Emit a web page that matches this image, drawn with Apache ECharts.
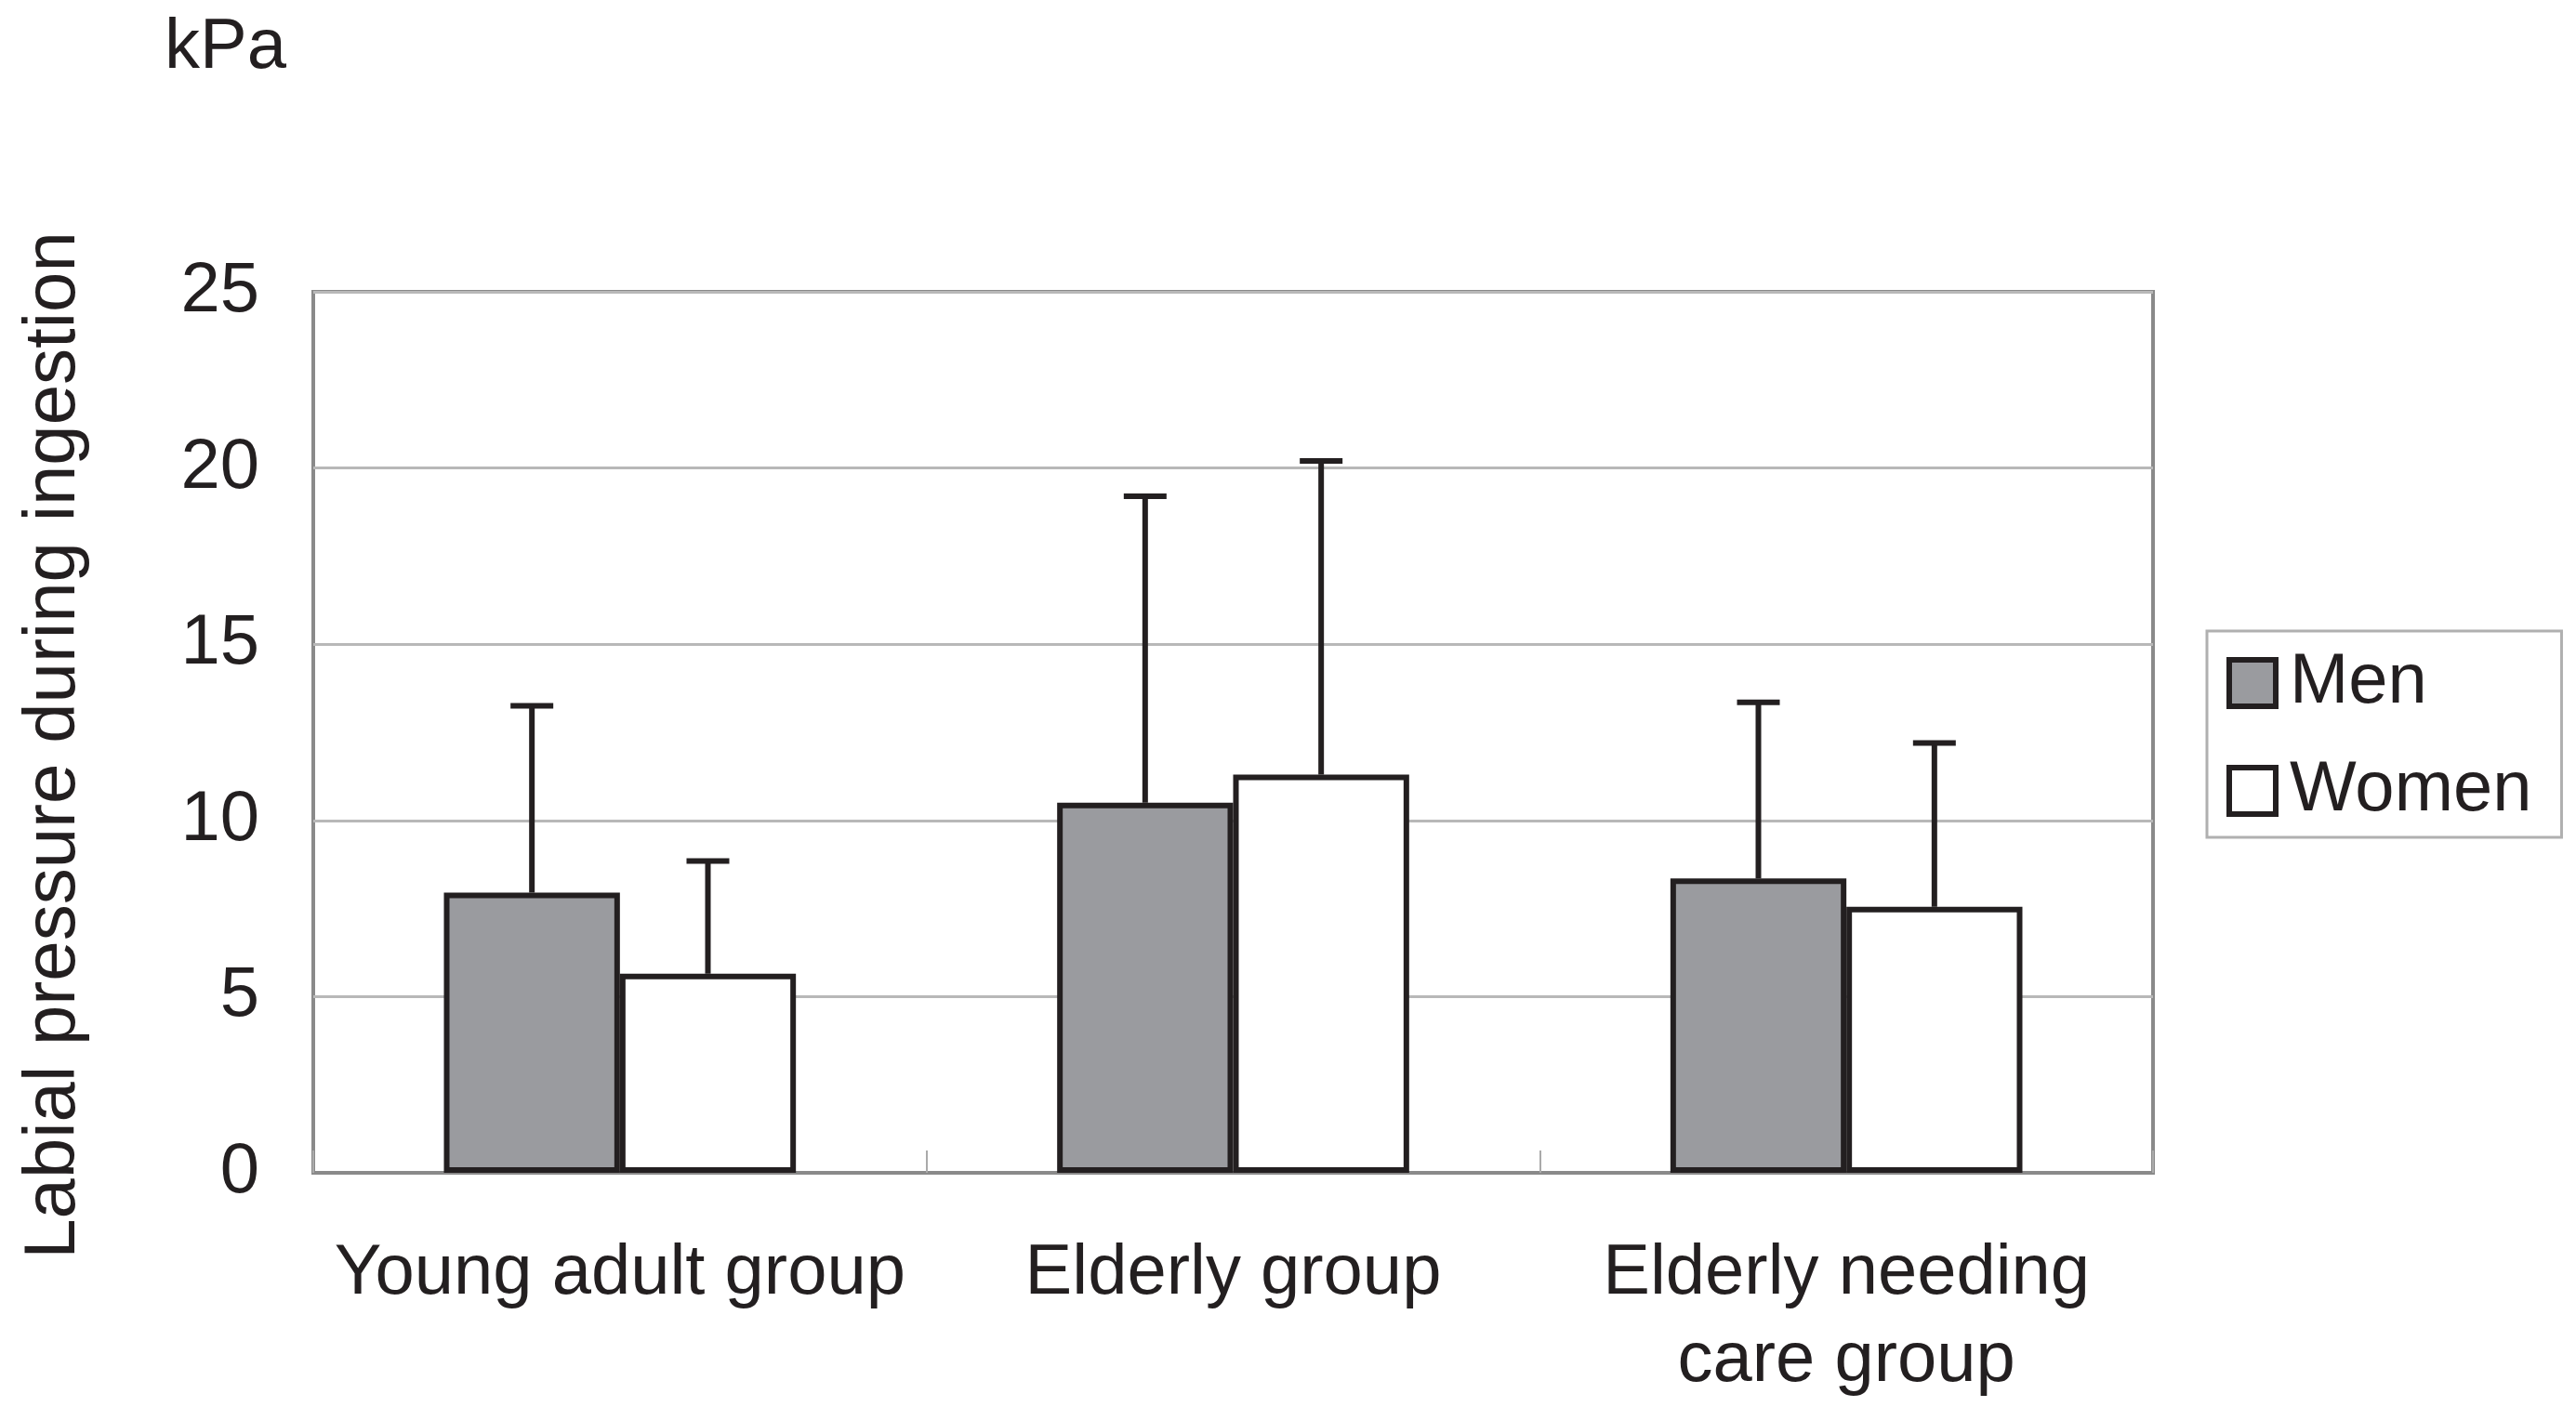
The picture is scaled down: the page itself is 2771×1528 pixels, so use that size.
<!DOCTYPE html>
<html>
<head>
<meta charset="utf-8">
<script src="https://cdn.jsdelivr.net/npm/echarts@6/dist/echarts.min.js"></script>
<style>
html,body{margin:0;padding:0;background:#fff;}
#c{width:2771px;height:1528px;}
</style>
</head>
<body>
<div id="c"></div>
<script>
// ---- data ----
const categories = ['Young adult group', 'Elderly group', 'Elderly needing\ncare group'];
const seriesNames = ['Men', 'Women'];
const menMean = [7.95, 10.5, 8.35];
const menSD = [5.3, 8.7, 5.0];
const womenMean = [5.65, 11.3, 7.55];
const womenSD = [3.2, 8.9, 4.65];
const yTicks = [0, 5, 10, 15, 20, 25];
const yTitle = 'Labial pressure during ingestion';
const unitLabel = 'kPa';

const FONT = '"Liberation Sans", Arial, sans-serif';
const INK = '#231f20';
const BAR_FRAC = 0.287;

function errData(means, sds) {
  return means.map((m, i) => [i, m, sds[i]]);
}

function errRender(side) {
  return function (params, api) {
    const ci = api.value(0), mean = api.value(1), sd = api.value(2);
    const top = api.coord([ci, mean + sd]);
    const base = api.coord([ci, mean]);
    const band = api.size([1, 0])[0];
    const x = top[0] + side * band * BAR_FRAC / 2;
    const cap = 23;
    const st = { stroke: INK, lineWidth: 6 };
    return {
      type: 'group',
      children: [
        { type: 'line', shape: { x1: x, y1: base[1], x2: x, y2: top[1] }, style: st },
        { type: 'line', shape: { x1: x - cap, y1: top[1], x2: x + cap, y2: top[1] }, style: st }
      ]
    };
  };
}

const chart = echarts.init(document.getElementById('c'), null, { renderer: 'canvas' });
chart.setOption({
  animation: false,
  backgroundColor: '#fff',
  textStyle: { fontFamily: FONT, color: INK },
  graphic: [
    {
      type: 'text', left: 177, top: 14,
      style: { text: unitLabel, font: '76px ' + FONT, fill: INK }
    },
    {
      type: 'text', x: 58, y: 802, rotation: Math.PI / 2,
      style: { text: yTitle, font: '78px ' + FONT, fill: INK, align: 'center', verticalAlign: 'middle' }
    }
  ],
  legend: {
    data: seriesNames,
    orient: 'vertical',
    left: 2374, top: 679,
    itemWidth: 50, itemHeight: 50, itemGap: 40,
    padding: [18, 32, 12, 21],
    borderColor: '#b0b0b0', borderWidth: 3,
    icon: 'rect',
    itemStyle: { borderColor: INK, borderWidth: 6 },
    textStyle: { fontSize: 76, fontFamily: FONT, color: INK, padding: [0, 0, 0, 10] }
  },
  grid: {
    left: 337, right: 455, top: 314, bottom: 266,
    show: true, borderColor: '#8a8a8a', borderWidth: 4, backgroundColor: 'transparent'
  },
  xAxis: {
    type: 'category',
    data: categories,
    axisLine: { show: true, lineStyle: { color: '#8a8a8a', width: 4 } },
    axisTick: { show: true, inside: true, length: 24, lineStyle: { color: '#aaaaaa', width: 2 } },
    axisLabel: { fontSize: 76, fontFamily: FONT, color: INK, margin: 62, lineHeight: 94, interval: 0 }
  },
  yAxis: {
    type: 'value', min: 0, max: 25, interval: 5,
    axisLine: { show: false },
    axisTick: { show: false },
    axisLabel: {
      fontSize: 76, fontFamily: FONT, color: INK, margin: 58,
      formatter: v => (yTicks.indexOf(v) >= 0 ? String(v) : '')
    },
    splitLine: { show: true, lineStyle: { color: '#b8b8b8', width: 3 } }
  },
  series: [
    {
      name: 'Men', type: 'bar', data: menMean,
      barWidth: (BAR_FRAC * 100) + '%', barGap: '0%',
      itemStyle: { color: '#9a9b9f', borderColor: INK, borderWidth: 6 }
    },
    {
      name: 'Women', type: 'bar', data: womenMean,
      barWidth: (BAR_FRAC * 100) + '%', barGap: '0%',
      itemStyle: { color: '#ffffff', borderColor: INK, borderWidth: 6 }
    },
    {
      type: 'custom', z: 3, renderItem: errRender(-1),
      data: errData(menMean, menSD), encode: { x: 0, y: 1 }, silent: true
    },
    {
      type: 'custom', z: 3, renderItem: errRender(1),
      data: errData(womenMean, womenSD), encode: { x: 0, y: 1 }, silent: true
    }
  ]
});
</script>
</body>
</html>
